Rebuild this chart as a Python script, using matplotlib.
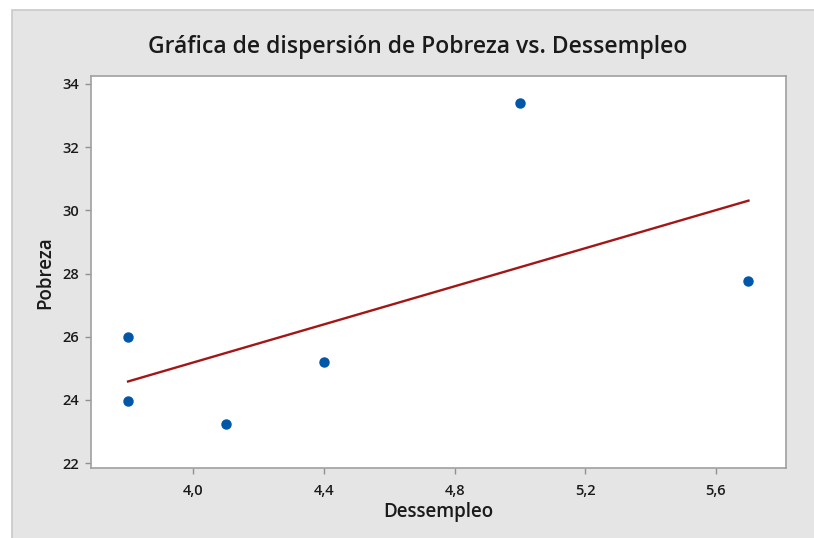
import numpy as np
import matplotlib
matplotlib.use("Agg")
import matplotlib.pyplot as plt
from matplotlib.patches import Rectangle

# datos
dessempleo = [3.8, 3.8, 4.1, 4.4, 5.0, 5.7]
pobreza = [26.0, 23.95, 23.25, 25.2, 33.4, 27.75]
xticks = [4.0, 4.4, 4.8, 5.2, 5.6]
yticks = [22, 24, 26, 28, 30, 32, 34]

plt.rcParams['font.family'] = ['Open Sans', 'DejaVu Sans']

fig = plt.figure(figsize=(8.14, 5.38), dpi=100)
fig.patch.set_facecolor('white')

# fondo gris de la grafica (estilo Minitab)
fig.patches.append(Rectangle((12/814, -0.05), 1.1, 1 - 10/538 + 0.05,
                             transform=fig.transFigure, facecolor='#e5e5e5',
                             edgecolor='#c9c9c9', linewidth=1.2, zorder=-1))

ax = fig.add_axes([0.1112, 0.1292, 0.8544, 0.7295])
ax.set_facecolor('white')

# recta de regresion
b, a = np.polyfit(dessempleo, pobreza, 1)
xl = np.array([min(dessempleo), max(dessempleo)])
ax.plot(xl, a + b*xl, color='#a31616', linewidth=1.7, zorder=2)

ax.plot(dessempleo, pobreza, 'o', color='#0057a8', markersize=6.5, zorder=3)

ax.set_xlim(3.685, 5.815)
ax.set_ylim(21.83, 34.25)
ax.set_xticks(xticks)
ax.set_xticklabels([f'{v:.1f}'.replace('.', ',') for v in xticks])
ax.set_yticks(yticks)

for s in ax.spines.values():
    s.set_color('#a0a0a0')
    s.set_linewidth(1.2)
ax.tick_params(direction='out', length=4, width=1, color='#909090',
               labelsize=10.5, labelcolor='#1a1a1a', pad=4)
for lbl in ax.get_xticklabels() + ax.get_yticklabels():
    lbl.set_fontweight('semibold')
ax.tick_params(axis='x', pad=7)

ax.set_xlabel('Dessempleo', fontsize=13.5, color='#1a1a1a', labelpad=3,
              fontweight='semibold')
ax.set_ylabel('Pobreza', fontsize=13.5, color='#1a1a1a', labelpad=5,
              fontweight='semibold')
fig.text(0.5135, 0.912, 'Gráfica de dispersión de Pobreza vs. Dessempleo',
         ha='center', va='center', fontsize=16.5, color='#1a1a1a',
         fontweight='semibold')

fig.savefig('out.png', dpi=100)
